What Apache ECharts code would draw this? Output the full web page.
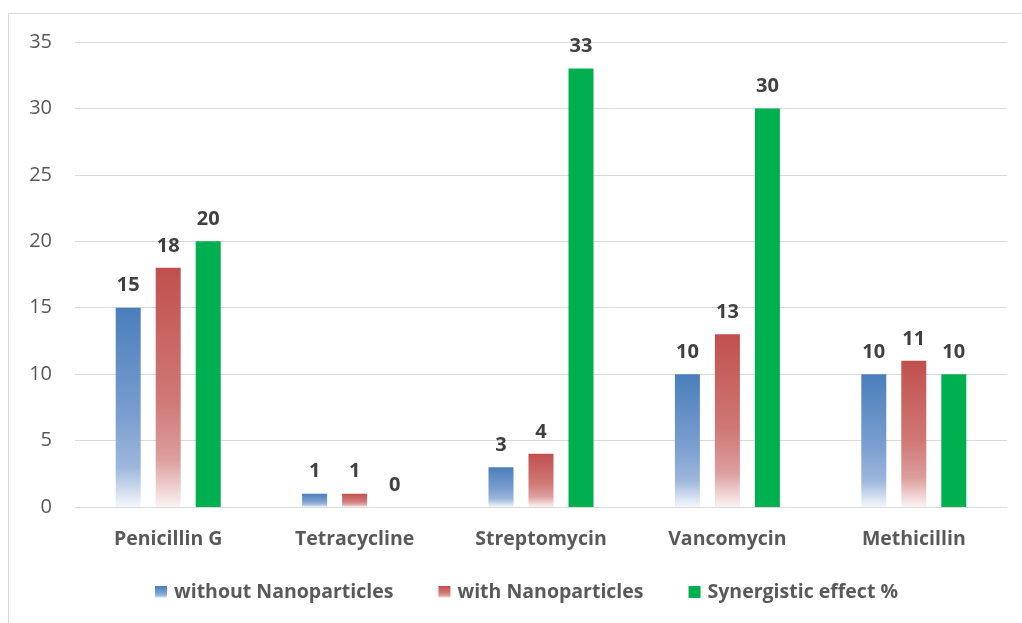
<!DOCTYPE html>
<html>
<head>
<meta charset="utf-8">
<script src="https://cdn.jsdelivr.net/npm/echarts@6/dist/echarts.min.js"></script>
<style>
  html, body { margin: 0; padding: 0; background: #fff; }
  #chart { width: 1022px; height: 623px; }
</style>
</head>
<body>
<div id="chart"></div>
<script>
const categories = ['Penicillin G', 'Tetracycline', 'Streptomycin', 'Vancomycin', 'Methicillin'];
const withoutNano = [15, 1, 3, 10, 10];
const withNano = [18, 1, 4, 13, 11];
const synergy = [20, 0, 33, 30, 10];
const seriesNames = ['without Nanoparticles', 'with Nanoparticles', 'Synergistic effect %'];

const FONT = '"Open Sans", "Liberation Sans", sans-serif';

function fade(top, mid, low, bottom) {
  return new echarts.graphic.LinearGradient(0, 0, 0, 1, [
    { offset: 0, color: top },
    { offset: 0.55, color: mid },
    { offset: 0.8, color: low },
    { offset: 1, color: bottom }
  ]);
}

const blueFill = fade('#4a7ebb', '#7b9fcf', '#9db7dc', '#f4f7fc');
const redFill = fade('#c0504d', '#d07876', '#dc9e9d', '#fcf3f3');

const valueLabel = {
  show: true,
  position: 'top',
  distance: 12,
  fontFamily: FONT,
  fontWeight: 'bold',
  fontSize: 20,
  color: '#404040'
};

const chart = echarts.init(document.getElementById('chart'), null, { renderer: 'canvas' });
chart.setOption({
  animation: false,
  backgroundColor: '#ffffff',
  graphic: [{
    type: 'rect',
    shape: { x: 8.5, y: 13.5, width: 1040, height: 700 },
    style: { fill: 'none', stroke: '#d9d9d9', lineWidth: 1 },
    silent: true,
    z: -10
  }],
  grid: { left: 75, right: 15, top: 42, bottom: 116, containLabel: false },
  legend: {
    bottom: 16,
    left: 150,
    itemWidth: 12,
    itemHeight: 12,
    itemGap: 45,
    icon: 'rect',
    textStyle: { fontFamily: FONT, fontWeight: 'bold', fontSize: 19.5, color: '#595959', padding: [0, 0, 0, 2] },
    data: [
      { name: seriesNames[0], itemStyle: { color: blueFill } },
      { name: seriesNames[1], itemStyle: { color: redFill } },
      { name: seriesNames[2], itemStyle: { color: '#00b050' } }
    ]
  },
  xAxis: {
    type: 'category',
    data: categories,
    axisLine: { show: true, lineStyle: { color: '#d9d9d9', width: 1 } },
    axisTick: { show: false },
    axisLabel: { margin: 22, fontFamily: FONT, fontWeight: 'bold', fontSize: 19.5, color: '#595959' }
  },
  yAxis: {
    type: 'value',
    min: 0,
    max: 35,
    interval: 5,
    axisLine: { show: false },
    axisTick: { show: false },
    splitLine: { lineStyle: { color: '#d9d9d9', width: 1 } },
    axisLabel: { margin: 23, fontFamily: FONT, fontSize: 20, color: '#595959' }
  },
  series: [
    {
      name: seriesNames[0], type: 'bar', data: withoutNano,
      barWidth: 25, barGap: '60%',
      itemStyle: { color: blueFill },
      label: valueLabel
    },
    {
      name: seriesNames[1], type: 'bar', data: withNano,
      barWidth: 25, barGap: '60%',
      itemStyle: { color: redFill },
      label: valueLabel
    },
    {
      name: seriesNames[2], type: 'bar', data: synergy,
      barWidth: 25, barGap: '60%',
      itemStyle: { color: '#00b050' },
      label: valueLabel
    }
  ]
});
</script>
</body>
</html>
